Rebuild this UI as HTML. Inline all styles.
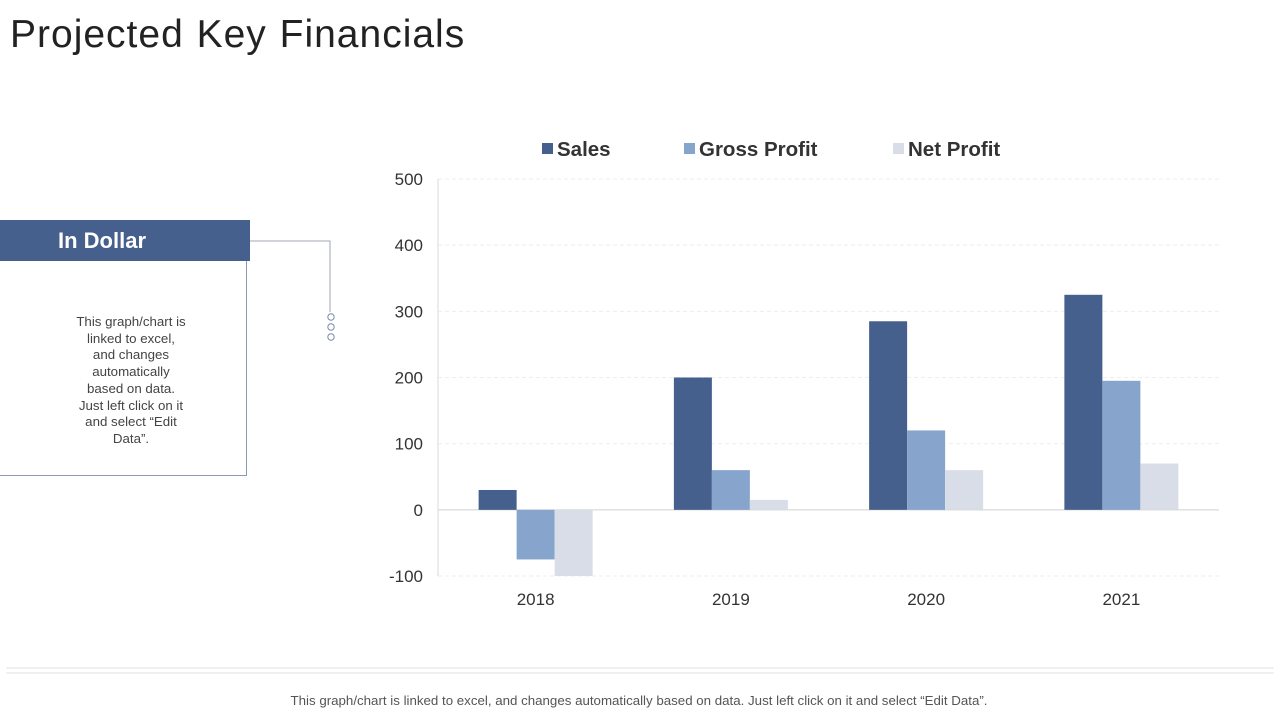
<!DOCTYPE html>
<html><head><meta charset="utf-8"><style>
body{margin:0;width:1280px;height:720px;background:#fff;font-family:"Liberation Sans",sans-serif;overflow:hidden;position:relative}
.abs{position:absolute}
</style></head><body>
<div class="abs" style="left:10px;top:13px;font-size:39px;color:#222;letter-spacing:1px;word-spacing:1px">Projected Key Financials</div>
<div class="abs" style="left:0;top:220px;width:246px;height:254px;border:1px solid #8a9ab5;border-left:none"></div>
<div class="abs" style="left:0;top:220px;width:250px;height:41px;background:#46608e;color:#fff;font-weight:bold;font-size:22px;line-height:41px;text-indent:58px">In Dollar</div>
<div class="abs" style="left:51px;top:314px;width:160px;text-align:center;font-size:13.3px;line-height:16.7px;color:#444">This graph/chart is<br>linked to excel,<br>and changes<br>automatically<br>based on data.<br>Just left click on it<br>and select “Edit<br>Data”.</div>
<svg class="abs" style="left:0;top:0" width="1280" height="720">
<polyline points="250,241 330,241 330,312" fill="none" stroke="#a0a8b5" stroke-width="1"/>
<circle cx="331" cy="317" r="3.2" fill="#fff" stroke="#7a8aa5"/>
<circle cx="331" cy="327" r="3.2" fill="#fff" stroke="#7a8aa5"/>
<circle cx="331" cy="337" r="3.2" fill="#fff" stroke="#7a8aa5"/>
<g id="g"></g>
<line x1="6" y1="668" x2="1274" y2="668" stroke="#e2e2e2"/>
<line x1="6" y1="673" x2="1274" y2="673" stroke="#e2e2e2"/>
<text x="639" y="705" text-anchor="middle" font-size="13.3" fill="#555">This graph/chart is linked to excel, and changes automatically based on data. Just left click on it and select “Edit Data”.</text>
</svg>
<script>
const categories=["2018","2019","2020","2021"];
const seriesNames=["Sales","Gross Profit","Net Profit"];
const sales=[30,200,285,325];
const grossProfit=[-75,60,120,195];
const netProfit=[-100,15,60,70];
const ticks=[-100,0,100,200,300,400,500];
const colors=["#46608e","#87a5cc","#d8dde8"];
const NS="http://www.w3.org/2000/svg";
const g=document.getElementById('g');
const x0=438,x1=1219,yMin=-100,yMax=500,yTop=179,yBot=576;
const y=v=>yBot-(v-yMin)/(yMax-yMin)*(yBot-yTop);
const bw=(x1-x0)/categories.length;
function mk(t,a,txt){const e=document.createElementNS(NS,t);for(const k in a)e.setAttribute(k,a[k]);if(txt!=null)e.textContent=txt;g.appendChild(e);return e;}
ticks.forEach(t=>{
 const l=mk('line',{x1:x0,x2:x1,y1:y(t),y2:y(t),stroke:t===0?'#d0d0d0':'#eeeeee','stroke-dasharray':t===0?'':'4,3'});
 
 
 const tx=mk('text',{x:423,y:y(t)+6,'text-anchor':'end','font-size':17,fill:'#333'},t);
 
 
});
const ax=mk('line',{x1:x0,x2:x0,y1:yTop,y2:yBot,stroke:'#d9d9d9'});


const series=[sales,grossProfit,netProfit];
const barW=38;
categories.forEach((c,i)=>{
 const cx=x0+bw*(i+0.5);
 series.forEach((s,j)=>{
  const v=s[i];const bx=cx-barW*1.5+j*barW;
  const r=mk('rect',{x:bx,y:Math.min(y(v),y(0)),width:barW,height:Math.abs(y(v)-y(0)),fill:colors[j]});
  
  
 });
 const t=mk('text',{x:cx,y:605,'text-anchor':'middle','font-size':17,fill:'#333'},c);
 
 
});
const legX=[542,684,893];
seriesNames.forEach((n,j)=>{
 const r=mk('rect',{x:legX[j],y:143,width:11,height:11,fill:colors[j]});
 
 
 const t=mk('text',{x:legX[j]+15,y:156,'font-size':20.5,'font-weight':'bold',fill:'#333'},n);
 
 
});
</script>
</body></html>
